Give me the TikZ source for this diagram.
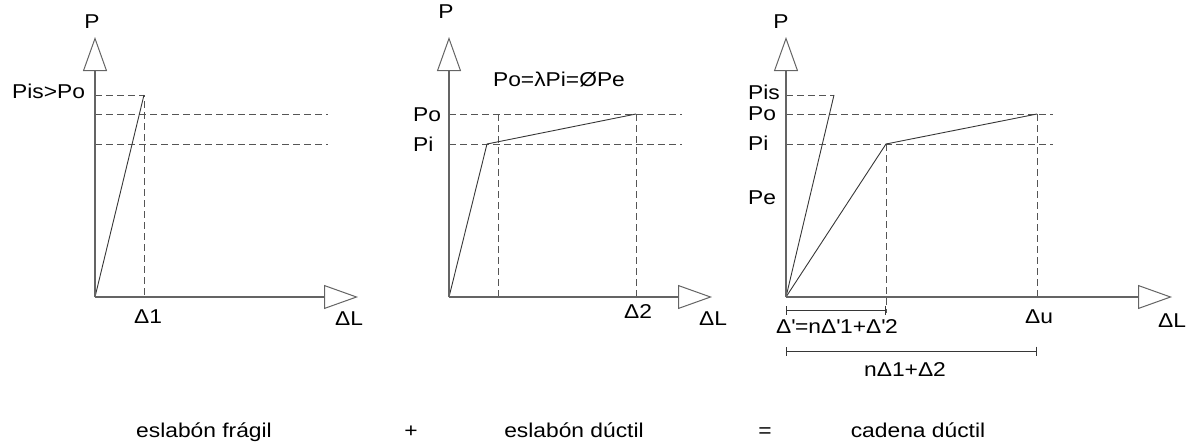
\documentclass[tikz,border=0pt]{standalone}
\usepackage{fontspec}
\setmainfont[FakeStretch=1.14]{Liberation Sans}
\usetikzlibrary{arrows.meta,calc,positioning}
\definecolor{axGray}{RGB}{100,100,100}
\definecolor{lnDark}{RGB}{55,55,55}
\definecolor{dshGray}{RGB}{85,85,85}
\newcommand{\dq}{\textquotesingle}

\begin{document}
\begin{tikzpicture}[x=1pt,y=-1pt,
  axis/.style={draw=axGray,line width=1.3pt,
    -{Triangle[open,length=34pt,width=24pt,line width=1pt]}},
  curve/.style={draw=lnDark,line width=0.9pt},
  guide/.style={draw=dshGray,line width=0.9pt,dash pattern=on 7pt off 4pt},
  dimline/.style={draw=lnDark,line width=0.9pt,{Bar[width=9pt]}-{Bar[width=9pt]}},
  lbl/.style={inner sep=0pt,font=\fontsize{20}{23}\selectfont,text=black}]
  \useasboundingbox (0,0) rectangle (1188,442);

  % eslabon fragil
  \coordinate (O1) at (95,297);
  \coordinate (Ytip1) at (95,37);
  \coordinate (Xtip1) at (358,297);
  \coordinate (Top1) at (144,95);
  \coordinate (Po1) at (95,114);
  \coordinate (Pi1) at (95,144);
  \draw[guide] (O1 |- Top1) -- (Top1) -- (Top1 |- O1);
  \draw[guide] (Po1) -- ++(233,0);
  \draw[guide] (Pi1) -- ++(233,0);
  \draw[curve] (O1) -- (Top1);
  \draw[axis] (O1) -- (Ytip1);
  \draw[axis] (O1) -- (Xtip1);
  \node[lbl,anchor=base] (p1) at (92,28) {P};
  \node[lbl,anchor=base west] (pis1) at (12,98) {Pis>Po};
  \node[lbl,anchor=base] (d1) at (148,323) {Δ1};
  \node[lbl,anchor=base] (dl1) at (349,325) {ΔL};

  % eslabon ductil
  \coordinate (O2) at (449,297);
  \coordinate (Ytip2) at (449,37);
  \coordinate (Xtip2) at (712,297);
  \coordinate (Yld2) at (487,144);
  \coordinate (Ult2) at (636,114);
  \coordinate (V2) at (498,114);
  \draw[guide] (O2 |- Ult2) -- ++(233,0);
  \draw[guide] (O2 |- Yld2) -- ++(233,0);
  \draw[guide] (V2) -- (V2 |- O2);
  \draw[guide] (Ult2) -- (Ult2 |- O2);
  \draw[curve] (O2) -- (Yld2) -- (Ult2);
  \draw[axis] (O2) -- (Ytip2);
  \draw[axis] (O2) -- (Xtip2);
  \node[lbl,anchor=base] (p2) at (446,18) {P};
  \node[lbl,anchor=base] (rel2) at (559,86) {Po=λPi=ØPe};
  \node[lbl,anchor=base west] (po2) at (413,121) {Po};
  \node[lbl,anchor=base west] (pi2) at (413,151) {Pi};
  \node[lbl,anchor=base] (d2) at (638,318) {Δ2};
  \node[lbl,anchor=base] (dl2) at (713,325) {ΔL};

  % cadena ductil
  \coordinate (O3) at (786,297);
  \coordinate (Ytip3) at (786,37);
  \coordinate (Xtip3) at (1172,297);
  \coordinate (Top3) at (834,95);
  \coordinate (Yld3) at (886,144);
  \coordinate (Ult3) at (1037,114);
  \coordinate (Low3) at (886,313);
  \coordinate (Da) at (786,310);
  \coordinate (Db) at (786,351);
  \draw[guide] (O3 |- Top3) -- (Top3);
  \draw[guide] (O3 |- Ult3) -- ++(267,0);
  \draw[guide] (O3 |- Yld3) -- ++(267,0);
  \draw[guide] (Yld3) -- (Low3);
  \draw[guide] (Ult3) -- (Ult3 |- O3);
  \draw[curve] (O3) -- (Top3);
  \draw[curve] (O3) -- (Yld3) -- (Ult3);
  \draw[axis] (O3) -- (Ytip3);
  \draw[axis] (O3) -- (Xtip3);
  \draw[dimline] (Da) -- (Da -| Yld3);
  \draw[dimline] (Db) -- (Db -| Ult3);
  \node[lbl,anchor=base] (p3) at (781,28) {P};
  \node[lbl,anchor=base west] (pis3) at (748,99) {Pis};
  \node[lbl,anchor=base west] (po3) at (748,120) {Po};
  \node[lbl,anchor=base west] (pi3) at (748,150) {Pi};
  \node[lbl,anchor=base west] (pe3) at (748,204) {Pe};
  \node[lbl,anchor=base] (du3) at (1039,323) {Δu};
  \node[lbl,anchor=base] (dl3) at (1172,327) {ΔL};
  \node[lbl,anchor=base] (da3) at (837,333) {Δ\dq=nΔ\dq1+Δ\dq2};
  \node[lbl,anchor=base] (db3) at (905,376) {nΔ1+Δ2};

  % leyenda
  \node[lbl,anchor=base] (frag) at (204,437) {eslabón frágil};
  \node[lbl,anchor=base] (plus) at (411,437) {+};
  \node[lbl,anchor=base] (duct) at (574,437) {eslabón dúctil};
  \node[lbl,anchor=base] (equ) at (765,437) {=};
  \node[lbl,anchor=base] (chain) at (918,437) {cadena dúctil};
\end{tikzpicture}
\end{document}
